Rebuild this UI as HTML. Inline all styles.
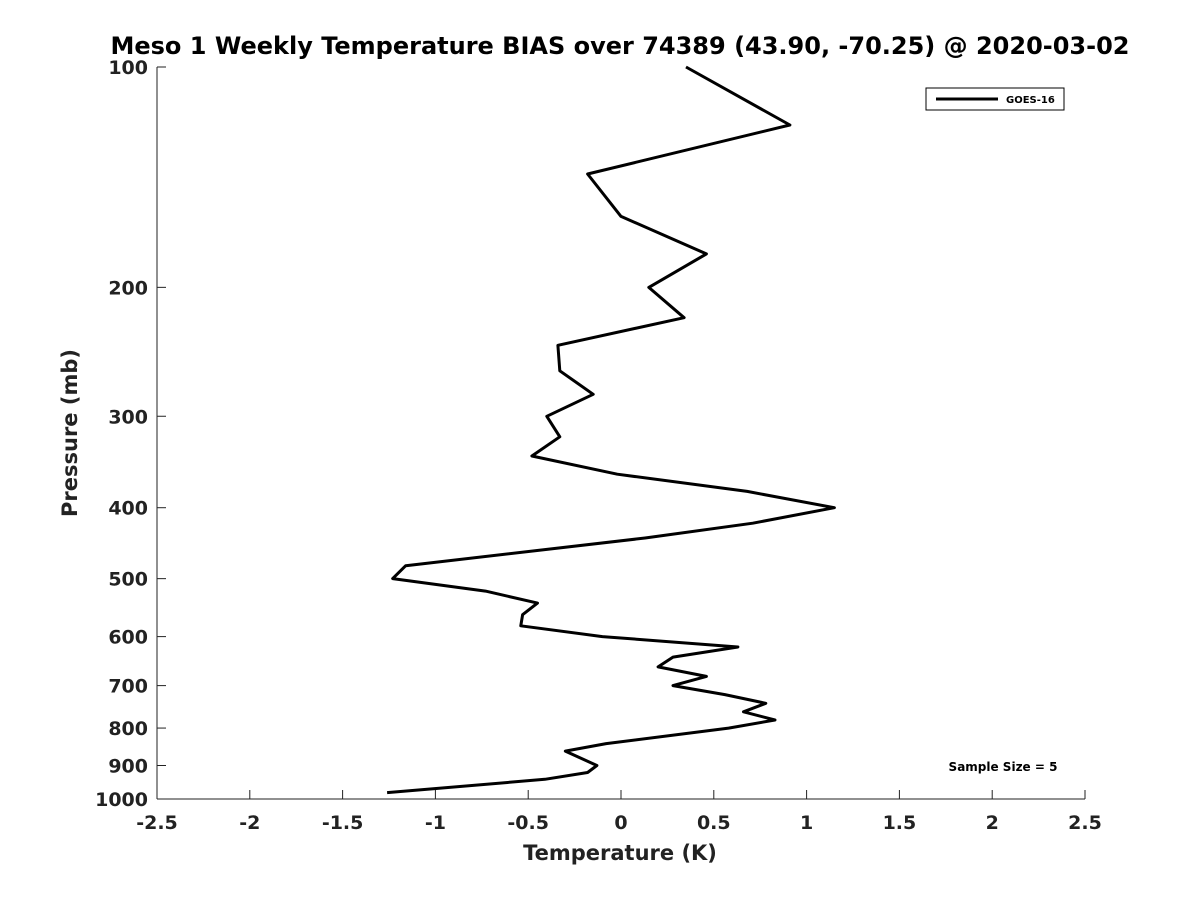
<!DOCTYPE html>
<html><head><meta charset="utf-8"><style>
body{margin:0;background:#fff;}
svg text{font-family:"DejaVu Sans","Liberation Sans",sans-serif;font-weight:bold;fill:#222;}
</style></head><body>
<svg width="1200" height="900">
<text x="620" y="54" font-size="24" text-anchor="middle" style="fill:#000">Meso 1 Weekly Temperature BIAS over 74389 (43.90, -70.25) @ 2020-03-02</text>
<g id="axes"></g>
<g id="series"></g>
<text x="620" y="860" font-size="21" text-anchor="middle">Temperature (K)</text>
<text transform="translate(77,433) rotate(-90)" font-size="21" text-anchor="middle">Pressure (mb)</text>
<g>
<rect x="926" y="88" width="138" height="22" fill="#fff" stroke="#000" stroke-width="1"/>
<line x1="936" y1="99" x2="998" y2="99" stroke="#000" stroke-width="3"/>
<text x="1006" y="103" font-size="10" style="fill:#000">GOES-16</text>
</g>
<text x="1003" y="771" font-size="12" text-anchor="middle" style="fill:#000">Sample Size = 5</text>
</svg>
<script>
const pressures=[100,120,140,160,180,200,220,240,260,280,300,320,340,360,380,400,420,440,480,500,520,540,560,580,600,620,640,660,680,700,720,740,760,780,800,840,860,900,920,940,980];
const biasValues=[0.35,0.91,-0.18,0.0,0.46,0.15,0.34,-0.34,-0.33,-0.15,-0.40,-0.33,-0.48,-0.02,0.68,1.15,0.71,0.13,-1.16,-1.23,-0.73,-0.45,-0.53,-0.54,-0.10,0.63,0.28,0.20,0.46,0.28,0.56,0.78,0.66,0.83,0.58,-0.08,-0.30,-0.13,-0.18,-0.41,-1.26];
const xTicks=[-2.5,-2,-1.5,-1,-0.5,0,0.5,1,1.5,2,2.5];
const yTicks=[100,200,300,400,500,600,700,800,900,1000];
const NS="http://www.w3.org/2000/svg";
const X=v=>621+v*185.6;
const Y=p=>67+(Math.log10(p)-2)*732;
const ax=document.getElementById('axes');
function mk(t,a,par){const e=document.createElementNS(NS,t);for(const k in a)e.setAttribute(k,a[k]);par.appendChild(e);return e;}
let l=mk('line',{x1:157,y1:67,x2:157,y2:799,stroke:'#222','stroke-width':1},ax);


l=mk('line',{x1:157,y1:799,x2:1085,y2:799,stroke:'#222','stroke-width':1},ax);


xTicks.forEach(v=>{
 mk('line',{x1:X(v),y1:799,x2:X(v),y2:790,stroke:'#222'},ax);
 const t=mk('text',{x:X(v),y:829,'font-size':19,'text-anchor':'middle'},ax);
 t.textContent=String(v);
 
 
});
yTicks.forEach(p=>{
 mk('line',{x1:157,y1:Y(p),x2:166,y2:Y(p),stroke:'#222'},ax);
 const t=mk('text',{x:148,y:Y(p)+7,'font-size':19,'text-anchor':'end'},ax);
 t.textContent=String(p);
 
 
});
const pts=pressures.map((p,i)=>X(biasValues[i]).toFixed(1)+','+Y(p).toFixed(1)).join(' ');
const pl=mk('polyline',{points:pts,fill:'none',stroke:'#000','stroke-width':3,'stroke-linejoin':'round'},document.getElementById('series'));


</script>
</body></html>
